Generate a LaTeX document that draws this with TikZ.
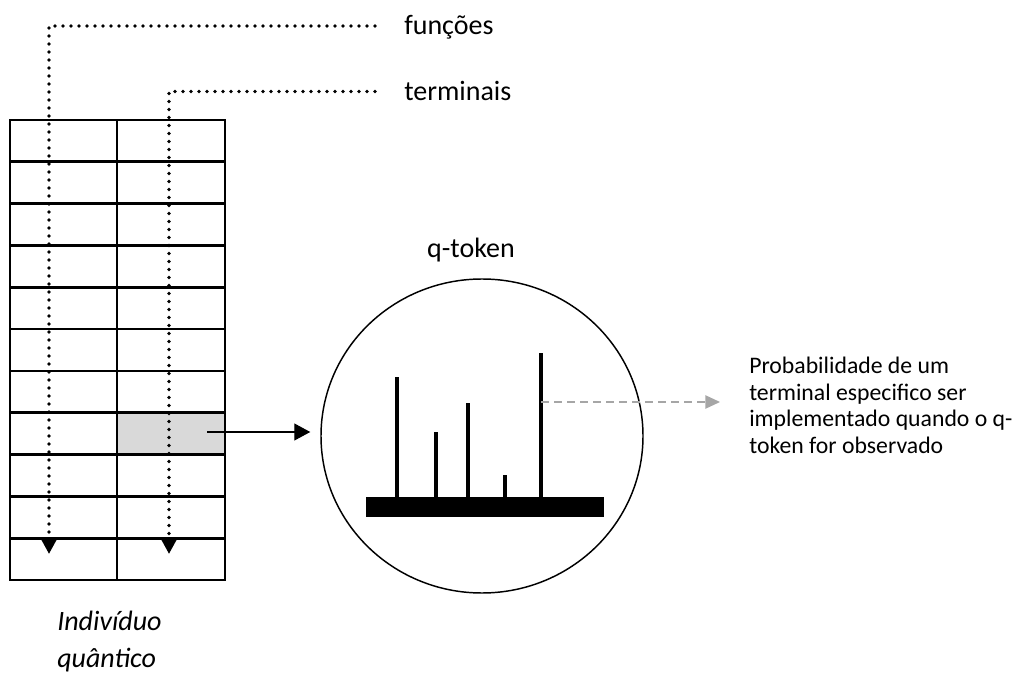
\documentclass[tikz,border=0pt]{standalone}
\usepackage{fontspec}
\setmainfont{Carlito}
\usetikzlibrary{arrows.meta,shapes.geometric}
\definecolor{cellgray}{HTML}{D9D9D9}
\definecolor{probgray}{HTML}{A6A6A6}

\begin{document}
\begin{tikzpicture}[x=0.75pt, y=-0.75pt,
    every node/.style={inner sep=0pt},
    gridline/.style={line width=2.1pt},
    dotline/.style={line width=2.7pt, line cap=round, dash pattern=on 0pt off 6pt,
      -{Triangle[length=11pt,width=11pt]}},
    bigtext/.style={font=\fontsize{21}{27.75}\selectfont},
    smalltext/.style={font=\fontsize{17.8}{19.9}\selectfont, align=left},
    bar/.style={line width=3pt}]

  \useasboundingbox (0,0) rectangle (1018,677);

  % Selected cell
  \node[fill=cellgray, minimum width=81pt, minimum height=31.5pt] (cell) at (171,434) {};

  % Individual
  \draw[gridline] (10,120) rectangle (225,580);
  \draw[gridline] (117,120) -- (117,580);
  \foreach \r in {1,...,10}
    \draw[gridline] (10,{120+41.82*\r}) -- (225,{120+41.82*\r});
  \node[bigtext, font=\fontsize{21}{27.75}\selectfont\itshape, align=left, anchor=north west]
    (ind) at (57,611) {Indivíduo\\quântico};

  % Functions and terminals
  \node[bigtext, anchor=west, text height=13.5pt, text depth=0pt] (fun) at (404,26) {funções};
  \node[bigtext, anchor=west, text height=13.5pt, text depth=0pt] (term) at (404,91.5) {terminais};
  \coordinate (fun-end) at (49,554);
  \coordinate (term-end) at (169,554);
  \draw[dotline] ([xshift=-21.75pt]fun.west) -| (fun-end);
  \draw[dotline] ([xshift=-21.75pt]term.west) -| (term-end);

  % q-token
  \node[draw, ellipse, line width=1.1pt, minimum width=241.5pt, minimum height=235.5pt]
    (token) at (482,436) {};
  \node[bigtext, anchor=base] (tlabel) at (471,258) {q-token};
  \fill (366,497) rectangle (604,517);
  \draw[bar] (397,497) -- (397,377);
  \draw[bar] (436,497) -- (436,432);
  \draw[bar] (468,497) -- (468,403);
  \draw[bar] (505,497) -- (505,475);
  \draw[bar] (541,497) -- (541,353);

  \coordinate (sel) at (207,432);
  \draw[line width=0.9pt, -{Triangle[length=12pt,width=12.75pt]}, shorten >=7.5pt]
    (sel) -- (sel -| token.west);

  % Probability
  \node[smalltext, anchor=north west] (prob) at (749,357)
    {Probabilidade de um\\terminal especifico ser\\implementado quando o q-\\token for observado};
  \coordinate (ptop) at (541,402);
  \draw[probgray, line width=1.1pt, dash pattern=on 6pt off 3.75pt,
    -{Triangle[length=11pt,width=10pt]}, shorten >=21.75pt]
    (ptop) -- (ptop -| prob.west);

\end{tikzpicture}
\end{document}
